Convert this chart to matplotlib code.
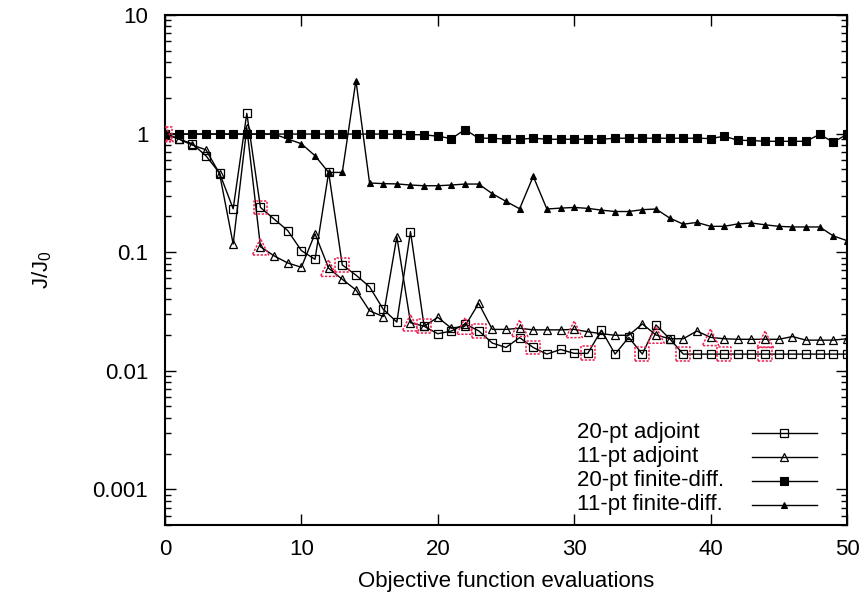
import numpy as np
import matplotlib
matplotlib.use("Agg")
import matplotlib.pyplot as plt
from matplotlib.ticker import FixedLocator, LogLocator, NullFormatter, FuncFormatter

plt.rcParams['font.family'] = ['Liberation Sans', 'DejaVu Sans']
plt.rcParams['font.size'] = 16

evals = np.arange(51)

adj20 = [1.0, 0.90, 0.82, 0.65, 0.465, 0.232, 1.48, 0.238, 0.19, 0.152,
         0.103, 0.087, 0.47, 0.078, 0.064, 0.051, 0.033, 0.0257, 0.149, 0.0237,
         0.0205, 0.0216, 0.0248, 0.0217, 0.0171, 0.0157, 0.019, 0.0157, 0.0138, 0.0151,
         0.014, 0.014, 0.022, 0.0138, 0.0191, 0.0138, 0.0243, 0.0186, 0.0138, 0.0138,
         0.0138, 0.0138, 0.0138, 0.0138, 0.0138, 0.0138, 0.0138, 0.0138, 0.0138, 0.0138,
         0.0138]
adj11 = [1.0, 0.90, 0.80, 0.73, 0.46, 0.117, 1.12, 0.111, 0.093, 0.081,
         0.0745, 0.143, 0.0732, 0.059, 0.048, 0.032, 0.0286, 0.135, 0.0254, 0.0237,
         0.0282, 0.0228, 0.0238, 0.037, 0.0223, 0.0223, 0.0228, 0.0221, 0.0221, 0.0221,
         0.0223, 0.0213, 0.0205, 0.0199, 0.0199, 0.0248, 0.0200, 0.0186, 0.0186, 0.0216,
         0.0191, 0.0186, 0.0184, 0.0184, 0.0184, 0.0184, 0.0194, 0.0181, 0.0181, 0.0181,
         0.0186]
fd20 = [1.0, 0.99, 0.99, 0.99, 0.99, 0.99, 0.99, 0.99, 0.99, 0.99,
        0.99, 0.99, 0.99, 0.99, 0.99, 0.99, 0.99, 0.985, 0.98, 0.975,
        0.95, 0.907, 1.08, 0.913, 0.913, 0.895, 0.895, 0.913, 0.895, 0.895,
        0.895, 0.895, 0.895, 0.913, 0.913, 0.913, 0.913, 0.913, 0.913, 0.913,
        0.907, 0.95, 0.878, 0.873, 0.86, 0.86, 0.86, 0.86, 0.985, 0.845,
        0.985]
fd11 = [1.0, 0.99, 0.99, 0.99, 0.99, 0.99, 0.99, 0.99, 0.99, 0.90,
        0.82, 0.65, 0.47, 0.47, 2.8, 0.383, 0.378, 0.376, 0.368, 0.363,
        0.363, 0.368, 0.375, 0.375, 0.311, 0.268, 0.232, 0.436, 0.231, 0.235,
        0.238, 0.234, 0.226, 0.22, 0.22, 0.228, 0.231, 0.194, 0.172, 0.178,
        0.165, 0.165, 0.173, 0.176, 0.170, 0.165, 0.163, 0.163, 0.163, 0.137,
        0.125]

# evaluations marked with the red dashed outline
mark20 = [0, 7, 13, 19, 23, 27, 31, 35, 38, 41, 44]
mark11 = [0, 7, 12, 18, 22, 26, 30, 36, 40, 44]

labels = ['20-pt adjoint', '11-pt adjoint', '20-pt finite-diff.', '11-pt finite-diff.']
red = '#ee2050'

fig = plt.figure(figsize=(8.66, 6.01), dpi=100)
ax = fig.add_axes([0.1905, 0.1265, 0.7875, 0.8486])

styles = [
    dict(marker='s', ms=5.5, mfc='none', mec='k', mew=0.9),
    dict(marker='^', ms=6, mfc='none', mec='k', mew=0.9),
    dict(marker='s', ms=5.5, mfc='k', mec='k', mew=0.8),
    dict(marker='^', ms=4.5, mfc='k', mec='k', mew=0.8),
]
series = [adj20, adj11, fd20, fd11]
order = [2, 3, 0, 1]
for i in order:
    ax.plot(evals, series[i], color='k', lw=1.0, **styles[i], zorder=3 + i)

a20 = np.array(adj20)
a11 = np.array(adj11)
ax.scatter(evals[mark20], a20[mark20], s=100, marker='s', facecolors='none',
           edgecolors=red, linewidths=1.1, linestyles=(0, (1.5, 1)), zorder=8)
ax.scatter(evals[mark11], a11[mark11], s=140, marker='^', facecolors='none',
           edgecolors=red, linewidths=1.1, linestyles=(0, (1.5, 1)), zorder=8)

ax.set_yscale('log')
ax.set_xlim(0, 50)
ax.set_ylim(5e-4, 10)
ax.xaxis.set_major_locator(FixedLocator([0, 10, 20, 30, 40, 50]))
ax.yaxis.set_major_locator(FixedLocator([1e-3, 1e-2, 1e-1, 1, 10]))
ax.yaxis.set_major_formatter(FuncFormatter(lambda v, p: '%g' % v))
ax.yaxis.set_minor_locator(LogLocator(base=10, subs=np.arange(2, 10)))
ax.yaxis.set_minor_formatter(NullFormatter())
ax.tick_params(which='both', direction='in', top=True, right=True, width=1.0)
ax.tick_params(which='major', length=8)
ax.tick_params(which='minor', length=4)
ax.tick_params(axis='y', pad=12)
ax.tick_params(axis='x', pad=10)
for sp in ax.spines.values():
    sp.set_linewidth(1.5)

ax.set_xlabel('Objective function evaluations', labelpad=8)
ax.set_ylabel(r'$\mathregular{J/J_0}$', labelpad=28)

# gnuplot-style key: text on the left, sample on the right
rows = [0.181, 0.134, 0.087, 0.040]
for i in range(4):
    st = dict(styles[i])
    ax.plot([0.861, 0.908, 0.956], [rows[i]] * 3, transform=ax.transAxes,
            color='k', lw=1.0, markevery=[1], clip_on=False, **st)
    ax.text(0.604, rows[i], labels[i], transform=ax.transAxes,
            ha='left', va='center', fontsize=16)

fig.savefig('out.png', dpi=100)
